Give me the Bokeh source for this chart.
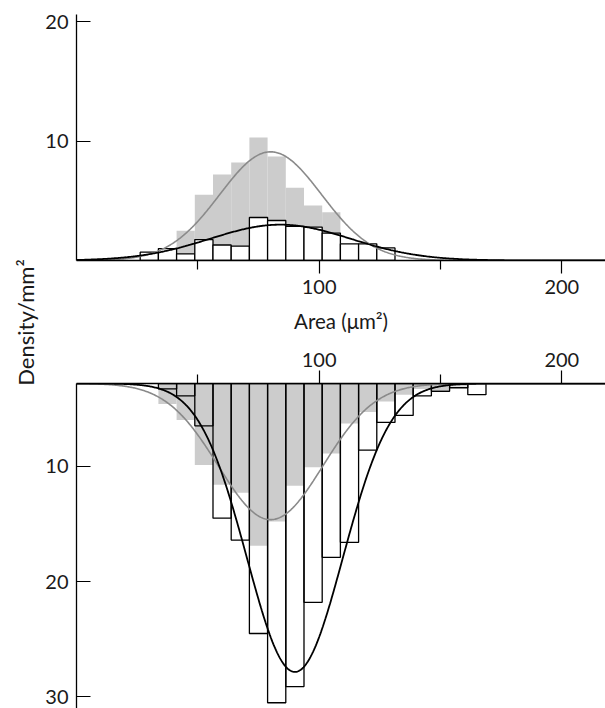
import numpy as np
from bokeh.plotting import figure
from bokeh.models import Range1d, FixedTicker, Label
from bokeh.layouts import row, column
from bokeh.embed import file_html
from bokeh.resources import INLINE

# ---- data (areas in µm², density per mm²) ----
BIN_WIDTH = 7.5

top_centers = [30, 37.5, 45, 52.5, 60, 67.5, 75, 82.5, 90, 97.5, 105, 112.5, 120, 127.5]
top_white = [0.7, 1.0, 0.55, 1.75, 1.3, 1.2, 3.6, 3.35, 2.85, 2.8, 2.3, 1.4, 1.4, 1.05]
top_gray = [0.5, 0.8, 2.5, 5.5, 7.2, 8.2, 10.3, 8.7, 6.1, 4.6, 4.05, 1.2, 1.0, 0.6]

bot_centers = [37.5, 45, 52.5, 60, 67.5, 75, 82.5, 90, 97.5, 105, 112.5, 120,
               127.5, 135, 142.5, 150, 157.5, 165]
bot_white = [3.3, 3.9, 6.5, 14.5, 16.4, 24.5, 30.5, 29.1, 21.8, 17.9, 16.6, 8.6,
             6.2, 5.6, 3.9, 3.5, 3.2, 3.8]
bot_gray = [4.6, 6.0, 9.9, 11.6, 12.3, 16.9, 14.8, 11.7, 10.1, 8.9, 6.3, 5.3,
            4.4, 3.8, 3.3, 3.4, 3.1, 2.83]
BOT_BASE = 2.83  # axis value at the baseline of the lower panel

# fitted normal curves: (mean, sd, peak)
top_gray_fit = (80, 21, 9.1)
top_black_fit = (84, 29, 3.0)
bot_gray_fit = (80, 21.5, 14.63)
bot_black_fit = (90, 19.7, 27.83)

x_ticks = [100, 200]
x_minor = [50, 150]
top_yticks = [10, 20]
bot_yticks = [10, 20, 30]

FONT = "Lato"
FS = "20px"
GRAY_FILL = "#cccccc"
GRAY_LINE = "#8a8a8a"
TXT = "#1a1a1a"

xs = np.linspace(0, 218, 600)


def curve(fit, base=0.0):
    m, s, pk = fit
    return base + (pk - base) * np.exp(-(xs - m) ** 2 / (2 * s * s))


def style(p, yt, xstand):
    p.grid.visible = False
    p.outline_line_color = None
    p.background_fill_color = "white"
    p.border_fill_color = "white"
    for ax in p.xaxis:
        ax.ticker = FixedTicker(ticks=x_ticks, minor_ticks=x_minor)
        ax.major_tick_out = 13
        ax.major_tick_in = 0
        ax.minor_tick_out = 9
        ax.minor_tick_in = 0
        ax.axis_line_width = 1.3
        ax.major_tick_line_width = 1.2
        ax.minor_tick_line_width = 1.2
        ax.major_label_text_font = FONT
        ax.major_label_text_font_size = FS
        ax.major_label_text_color = TXT
        ax.major_label_standoff = xstand
    for ax in p.yaxis:
        ax.ticker = FixedTicker(ticks=yt)
        ax.major_tick_in = 14
        ax.major_tick_out = 0
        ax.minor_tick_in = 0
        ax.minor_tick_out = 0
        ax.axis_line_width = 1.3
        ax.major_tick_line_width = 1.2
        ax.major_label_text_font = FONT
        ax.major_label_text_font_size = FS
        ax.major_label_text_color = TXT
        ax.major_label_standoff = 8


# ---- top panel ----
p1 = figure(width=565, height=335, x_range=Range1d(0, 218), y_range=Range1d(0, 20.6),
            min_border_left=36, min_border_right=0, min_border_top=14, min_border_bottom=74,
            output_backend="svg", toolbar_location=None)
style(p1, top_yticks, 6)
p1.xaxis.axis_label = "Area (μm²)"
p1.xaxis.axis_label_text_font = FONT
p1.xaxis.axis_label_text_font_size = "20.5px"
p1.xaxis.axis_label_text_font_style = "normal"
p1.xaxis.axis_label_text_color = TXT
p1.xaxis.axis_label_standoff = 12

p1.vbar(x=top_centers, width=BIN_WIDTH, top=top_gray, bottom=0,
        fill_color=GRAY_FILL, line_color=None)
p1.vbar(x=top_centers, width=BIN_WIDTH, top=top_white, bottom=0,
        fill_color="white", line_color="black", line_width=1.3)
p1.line(xs, curve(top_gray_fit), line_color=GRAY_LINE, line_width=1.6)
p1.line(xs, curve(top_black_fit), line_color="black", line_width=1.8)

# ---- bottom panel (inverted) ----
p2 = figure(width=565, height=373, x_range=p1.x_range, y_range=Range1d(31.0, BOT_BASE),
            x_axis_location="above",
            min_border_left=36, min_border_right=0, min_border_top=48, min_border_bottom=0,
            output_backend="svg", toolbar_location=None)
style(p2, bot_yticks, 4)

p2.vbar(x=bot_centers, width=BIN_WIDTH, top=bot_gray, bottom=BOT_BASE,
        fill_color=GRAY_FILL, line_color=None)
p2.vbar(x=bot_centers, width=BIN_WIDTH, top=bot_white, bottom=BOT_BASE,
        fill_alpha=0, line_color="black", line_width=1.3)
p2.line(xs, curve(bot_gray_fit, BOT_BASE), line_color=GRAY_LINE, line_width=1.6)
p2.line(xs, curve(bot_black_fit, BOT_BASE), line_color="black", line_width=1.8)

# ---- shared y label ----
lab = figure(width=40, height=708, x_range=Range1d(0, 40), y_range=Range1d(0, 708),
             x_axis_location=None, y_axis_location=None, min_border=0,
             output_backend="svg", toolbar_location=None)
lab.grid.visible = False
lab.outline_line_color = None
lab.add_layout(Label(x=25, y=708 - 322, text="Density/mm²", angle=np.pi / 2,
                     text_align="center", text_baseline="middle",
                     text_font=FONT, text_font_size="22px", text_color=TXT))

layout = row(lab, column(p1, p2))
open("out.html", "w").write(file_html(layout, INLINE))
